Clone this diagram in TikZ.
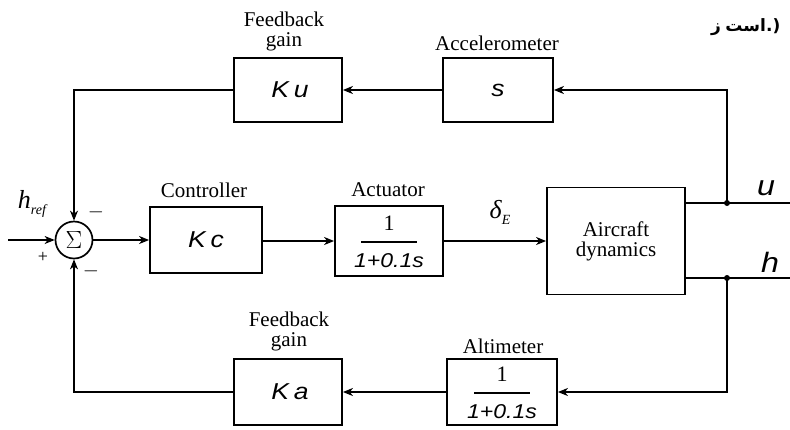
\documentclass[tikz,border=0pt]{standalone}
\usepackage{fontspec}
\setmainfont{Liberation Serif}
\newfontfamily\boxfont[FakeStretch=1.15]{Liberation Sans}
\newfontfamily\arabicfont[Script=Arabic]{DejaVu Sans}
\newfontfamily\dvsans{DejaVu Sans}
\TeXXeTstate=1
\usetikzlibrary{arrows.meta}
\begin{document}
\begin{tikzpicture}[x=1pt,y=-1pt,
  blk/.style={draw,line width=1.8pt,inner sep=0pt},
  lbl/.style={font=\fontsize{21}{20}\selectfont,inner sep=0pt,align=center},
  btxt/.style={font=\boxfont\itshape\fontsize{23}{24}\selectfont,inner sep=0pt},
  ftxt/.style={font=\boxfont\itshape\fontsize{20}{20}\selectfont,inner sep=0pt},
  fatxt/.style={font=\arabicfont\bfseries\fontsize{17}{20}\selectfont,inner sep=0pt},
  sig/.style={line width=1.4pt},
  arr/.style={line width=1.4pt,-{Stealth[length=10pt,width=8pt,inset=3pt]}},
  dot/.style={circle,fill,inner sep=0pt,minimum size=6pt}]
\useasboundingbox (0,0) rectangle (790,429);
% blocks
\node[circle,draw,line width=1.7pt,minimum size=37pt,inner sep=0pt] (sum) at (74,240) {\fontsize{25}{25}\selectfont$\Sigma$};
\node[blk,minimum width=112pt,minimum height=66pt] (kc) at (206,240) {};
\node[btxt] (kctxt) at (206,240) {K\kern5pt c};
\node[blk,minimum width=108pt,minimum height=70pt] (act) at (389,241) {};
\node[inner sep=0pt,font=\fontsize{22}{22}\selectfont] (actnum) at (389,223) {1};
\draw[line width=1.3pt] (361,242) -- (417,242);
\node[ftxt] (actden) at (389,261) {1+0.1s};
\node[blk,minimum width=138pt,minimum height=107pt] (air) at (616,241) {};
\node[lbl] (airtxt) at (616,241) {Aircraft\\dynamics};
\node[blk,minimum width=108pt,minimum height=64pt] (ku) at (288,90) {};
\node[btxt] (kutxt) at (290,90) {K\kern5pt u};
\node[blk,minimum width=110pt,minimum height=64pt] (acc) at (498,90) {};
\node[btxt] (acctxt) at (498,90) {s};
\node[blk,minimum width=108pt,minimum height=66pt] (ka) at (288,392) {};
\node[btxt] (katxt) at (290,392) {K\kern5pt a};
\node[blk,minimum width=110pt,minimum height=66pt] (alt) at (502,392) {};
\node[inner sep=0pt,font=\fontsize{22}{22}\selectfont] (altnum) at (502,374) {1};
\draw[line width=1.3pt] (474,393) -- (530,393);
\node[ftxt] (altden) at (502,412) {1+0.1s};
% labels
\node[lbl] (fbtop1) at (284,19) {Feedback};
\node[lbl] (fbtop2) at (284,42) {gain};
\node[lbl] (acclbl) at (497,43) {Accelerometer};
\node[lbl] (kclbl) at (204,190) {Controller};
\node[lbl] (actlbl) at (388,190) {Actuator};
\node[lbl] (fbbot1) at (289,319) {Feedback};
\node[lbl] (fbbot2) at (289,342) {gain};
\node[lbl] (altlbl) at (503,346) {Altimeter};
\node[inner sep=0pt,font=\itshape\fontsize{26}{26}\selectfont] (de) at (500,212) {δ\raisebox{-6pt}{\fontsize{14}{14}\selectfont E}};
\node[inner sep=0pt,font=\itshape\fontsize{26}{26}\selectfont] (href) at (32,204) {h\raisebox{-6pt}{\fontsize{14}{14}\selectfont ref}};
\node[inner sep=0pt,font=\fontsize{18}{18}\selectfont] (plus) at (43,257) {+};
\node[inner sep=0pt,font=\fontsize{22}{22}\selectfont] (mtop) at (96,212) {$-$};
\node[inner sep=0pt,font=\fontsize{22}{22}\selectfont] (mbot) at (91,271) {$-$};
\node[inner sep=0pt,font=\boxfont\itshape\fontsize{28}{28}\selectfont] (ulbl) at (766,188) {u};
\node[inner sep=0pt,font=\boxfont\itshape\fontsize{28}{28}\selectfont] (hlbl) at (770,262) {h};
\node[fatxt] (fa1) at (716,30) {ز};
\node[fatxt,anchor=base west] (fa2) at ([xshift=4pt]fa1.base east) {\beginR است\endR};
\node[inner sep=0pt,font=\dvsans\bfseries\fontsize{17}{20}\selectfont,anchor=base west] (fa3) at (fa2.base east) {.)};
% coordinates
\coordinate (in) at (8,240);
\coordinate (uout) at (790,203);
\coordinate (hout) at (790,278);
\coordinate (uj) at (727,203);
\coordinate (hj) at (727,278);
\coordinate (airu) at (685,203);
\coordinate (airh) at (685,278);
\coordinate (tr) at (727,90);
\coordinate (br) at (727,392);
\coordinate (tl) at (74,90);
\coordinate (bl) at (74,392);
% connectors
\draw[arr] (in) -- (sum);
\draw[arr] (sum) -- (kc);
\draw[arr] (kc.east |- act.west) -- (act.west);
\draw[arr] (act) -- (air);
\draw[sig] (airu) -- (uout);
\draw[sig] (airh) -- (hout);
\node[dot] (ujd) at (uj) {};
\node[dot] (hjd) at (hj) {};
\draw[arr] (uj) -- (tr) -- (acc.east);
\draw[arr] (acc) -- (ku);
\draw[arr] (ku.west) -- (tl) -- (sum.north);
\draw[arr] (hj) -- (br) -- (alt.east);
\draw[arr] (alt) -- (ka);
\draw[arr] (ka.west) -- (bl) -- (sum.south);
\end{tikzpicture}
\end{document}
